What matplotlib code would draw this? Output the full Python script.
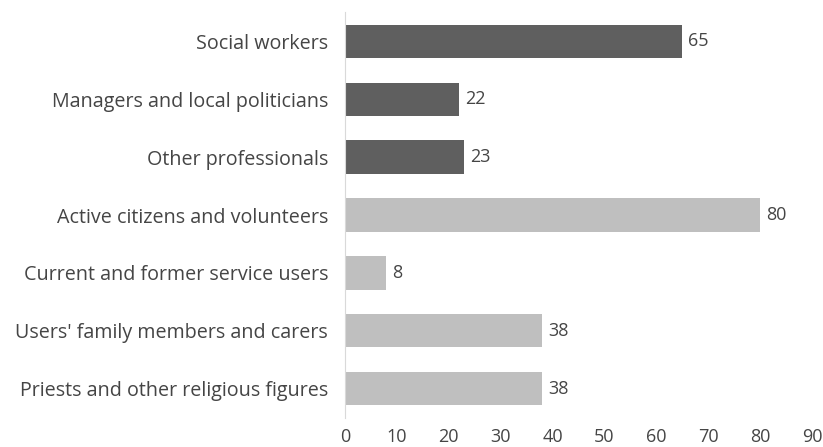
import numpy as np
import matplotlib.pyplot as plt

# respondents by group
categories = [
    "Social workers",
    "Managers and local politicians",
    "Other professionals",
    "Active citizens and volunteers",
    "Current and former service users",
    "Users' family members and carers",
    "Priests and other religious figures",
]
values = [65, 22, 23, 80, 8, 38, 38]
is_professional = [True, True, True, False, False, False, False]
xticks = [0, 10, 20, 30, 40, 50, 60, 70, 80, 90]

dark = "#5f5f5f"
light = "#bfbfbf"
text_col = "#454545"

plt.rcParams["font.family"] = ["Open Sans", "DejaVu Sans"]

fig = plt.figure(figsize=(8.23, 4.47), dpi=100)
ax = fig.add_axes([0.419, 0.065, 0.568, 0.908])

y = np.arange(len(categories))
colors = [dark if p else light for p in is_professional]
bars = ax.barh(y, values, height=0.57, color=colors)

for b, v in zip(bars, values):
    ax.text(b.get_width() + 1.1, b.get_y() + b.get_height() / 2, str(v),
            va="center", ha="left", fontsize=13, color=text_col)

ax.set_yticks(y)
ax.set_yticklabels(categories, fontsize=14.2, color=text_col)
ax.set_xticks(xticks)
ax.set_xticklabels([str(t) for t in xticks], fontsize=13, color=text_col)
ax.set_xlim(0, 90)
ax.set_ylim(len(categories) - 0.5, -0.5)

for s in ["top", "right", "bottom"]:
    ax.spines[s].set_visible(False)
ax.spines["left"].set_color("#d9d9d9")
ax.tick_params(axis="both", length=0)
ax.tick_params(axis="y", pad=12)
ax.tick_params(axis="x", pad=7)

fig.savefig("out.png", dpi=100)
